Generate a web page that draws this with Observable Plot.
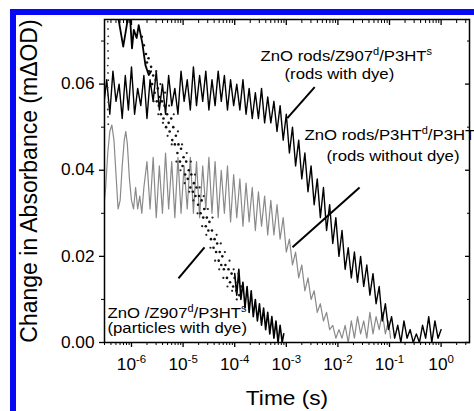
<!DOCTYPE html>
<html><head><meta charset="utf-8">
<script src="https://cdn.jsdelivr.net/npm/d3@7"></script>
<script src="https://cdn.jsdelivr.net/npm/@observablehq/plot@0.6"></script>
<style>
html,body{margin:0;padding:0;background:#fff;width:474px;height:411px;overflow:hidden;}
#chart{position:absolute;left:0;top:0;}
.bar{position:absolute;background:#0808f6;}
</style></head><body>
<div id="chart"></div>
<div class="bar" style="left:10px;top:9px;width:464px;height:6px"></div>
<div class="bar" style="left:10px;top:9px;width:6px;height:402px"></div>
<script>
// ---- data: [log10(time / s), change in absorbance] ----
const rodsWithDye = [
[-6.54,0.055],[-6.48,0.061],[-6.42,0.053],[-6.36,0.063],[-6.30,0.056],[-6.24,0.060],[-6.18,0.052],[-6.12,0.062],[-6.06,0.054],[-6.00,0.064],
[-5.94,0.053],[-5.88,0.059],[-5.82,0.055],[-5.76,0.062],[-5.70,0.052],[-5.64,0.061],[-5.58,0.056],[-5.52,0.063],[-5.46,0.054],[-5.40,0.060],
[-5.34,0.053],[-5.28,0.062],[-5.22,0.055],[-5.16,0.059],[-5.10,0.053],[-5.04,0.063],[-4.98,0.056],[-4.92,0.061],[-4.86,0.054],[-4.80,0.064],
[-4.74,0.055],[-4.68,0.062],[-4.62,0.056],[-4.56,0.063],[-4.50,0.054],[-4.44,0.061],[-4.38,0.055],[-4.32,0.063],[-4.26,0.056],[-4.20,0.062],
[-4.14,0.054],[-4.08,0.061],[-4.02,0.055],
[-3.96,0.060],[-3.90,0.054],[-3.84,0.061],[-3.78,0.053],[-3.72,0.059],[-3.66,0.052],[-3.60,0.058],[-3.54,0.052],[-3.48,0.059],[-3.42,0.051],
[-3.36,0.057],[-3.30,0.051],[-3.24,0.056],[-3.18,0.049],[-3.12,0.055],[-3.06,0.047],[-3.00,0.053],[-2.94,0.044],[-2.88,0.050],[-2.82,0.041],
[-2.76,0.047],[-2.70,0.038],[-2.64,0.044],[-2.58,0.035],[-2.52,0.041],[-2.46,0.032],[-2.40,0.038],[-2.34,0.029],[-2.28,0.036],[-2.22,0.026],
[-2.16,0.032],[-2.10,0.023],[-2.04,0.029],[-1.98,0.020],[-1.92,0.026],[-1.86,0.017],[-1.80,0.022],[-1.74,0.015],[-1.68,0.021],[-1.62,0.014],
[-1.56,0.020],[-1.50,0.013],[-1.44,0.018],[-1.38,0.011],[-1.32,0.016],[-1.26,0.009],[-1.20,0.013],[-1.14,0.005],[-1.08,0.009],[-1.02,0.003],
[-0.96,0.006],[-0.90,0.001],[-0.84,0.004],[-0.78,0.000],[-0.72,0.005],[-0.66,0.001],[-0.60,0.003],[-0.54,0.000],[-0.48,0.002],[-0.42,0.000],
[-0.36,0.004],[-0.30,0.001],[-0.24,0.006],[-0.18,0.000],[-0.12,0.005],[-0.06,0.001],[0.00,0.003]
];
const rodsWithoutDye = [
[-6.54,0.031],[-6.50,0.036],[-6.46,0.044],[-6.42,0.049],[-6.38,0.0505],[-6.34,0.047],[-6.30,0.039],[-6.26,0.031],[-6.22,0.033],[-6.18,0.041],
[-6.14,0.047],[-6.11,0.049],[-6.08,0.046],[-6.04,0.038],[-6.00,0.033],[-5.96,0.031],[-5.92,0.036],[-5.88,0.031],[-5.84,0.034],[-5.80,0.030],
[-5.76,0.036],[-5.70,0.042],[-5.64,0.031],[-5.58,0.043],[-5.52,0.029],[-5.46,0.041],[-5.40,0.030],[-5.34,0.044],[-5.28,0.031],[-5.22,0.042],
[-5.16,0.029],[-5.10,0.043],[-5.04,0.030],[-4.98,0.041],[-4.92,0.031],[-4.86,0.043],[-4.80,0.030],[-4.74,0.042],[-4.68,0.029],[-4.62,0.041],
[-4.56,0.031],[-4.50,0.043],[-4.44,0.030],[-4.38,0.042],[-4.32,0.029],[-4.26,0.040],[-4.20,0.030],[-4.14,0.041],[-4.08,0.028],[-4.02,0.039],
[-3.96,0.029],[-3.90,0.038],[-3.84,0.027],[-3.78,0.037],[-3.72,0.028],[-3.66,0.036],[-3.60,0.026],[-3.54,0.035],[-3.48,0.027],[-3.42,0.034],
[-3.36,0.025],[-3.30,0.033],[-3.24,0.025],[-3.18,0.032],[-3.12,0.024],[-3.06,0.029],[-3.00,0.021],[-2.94,0.024],[-2.88,0.018],[-2.82,0.021],
[-2.76,0.015],[-2.70,0.018],[-2.64,0.012],[-2.58,0.015],[-2.52,0.010],[-2.46,0.012],[-2.40,0.007],[-2.34,0.009],[-2.28,0.005],[-2.22,0.007],
[-2.16,0.003],[-2.10,0.004],[-2.04,0.001],[-1.98,0.003],[-1.92,0.001],[-1.86,0.004],[-1.80,0.000],[-1.74,0.005],[-1.68,0.001],[-1.62,0.006],
[-1.56,0.002],[-1.50,0.005],[-1.44,0.001],[-1.38,0.007],[-1.32,0.002],[-1.26,0.006],[-1.20,0.003],[-1.14,0.007],[-1.08,0.002],[-1.02,0.005],[-0.98,0.001]
];
const particlesEarlyTrace = [
[-6.30,0.080],[-6.25,0.075],[-6.16,0.0687],[-6.08,0.0745],[-6.04,0.078],[-6.01,0.072],[-5.99,0.0683],[-5.955,0.0726],[-5.90,0.0707],
[-5.86,0.0737],[-5.79,0.0695],[-5.73,0.0644],[-5.665,0.0621],[-5.62,0.063]
];
const particlesStartColumn = [
[-6.46,0.0745],[-6.455,0.0728],[-6.45,0.0711],[-6.46,0.0694],[-6.455,0.0677],[-6.45,0.066],[-6.46,0.0643],[-6.455,0.0626],
[-6.45,0.0609],[-6.46,0.0592],[-6.455,0.0575],[-6.45,0.0558],[-6.46,0.0541],[-6.455,0.0524],[-6.45,0.0507]
];
const particlesDots = [
[-5.80,0.071],[-5.76,0.069],[-5.72,0.067],[-5.70,0.065],[-5.67,0.066],[-5.66,0.063],
[-5.62,0.064],[-5.60,0.060],[-5.58,0.062],[-5.55,0.058],[-5.53,0.061],[-5.51,0.056],[-5.49,0.059],[-5.47,0.055],[-5.45,0.057],[-5.43,0.053],
[-5.41,0.056],[-5.38,0.052],[-5.36,0.055],[-5.33,0.050],[-5.31,0.053],[-5.28,0.051],[-5.26,0.049],[-5.23,0.052],[-5.21,0.047],[-5.19,0.050],
[-5.16,0.046],[-5.14,0.048],[-5.11,0.044],[-5.09,0.046],[-5.06,0.042],[-5.04,0.045],[-5.01,0.041],[-4.99,0.043],[-4.96,0.039],[-4.94,0.042],
[-4.91,0.038],[-4.89,0.040],[-4.86,0.036],[-4.84,0.039],[-4.81,0.035],[-4.79,0.037],[-4.76,0.034],[-4.74,0.036],[-4.71,0.032],[-4.69,0.034],
[-4.66,0.030],[-4.64,0.033],[-4.61,0.029],[-4.59,0.031],[-4.56,0.027],[-4.54,0.029],[-4.51,0.026],[-4.49,0.028],[-4.46,0.024],[-4.44,0.026],
[-4.41,0.022],[-4.39,0.024],[-4.36,0.021],[-4.34,0.023],[-4.31,0.019],[-4.29,0.021],[-4.26,0.018],[-4.24,0.020],[-4.21,0.017],[-4.18,0.018],
[-4.15,0.015],[-4.12,0.017],[-4.09,0.014],[-4.06,0.016],[-4.03,0.013],[-4.00,0.015],[-3.97,0.012],[-3.94,0.014],[-3.91,0.011],[-3.88,0.013]
];
const particlesScatter = [
[-5.57,0.056],[-5.52,0.063],[-5.48,0.053],[-5.44,0.060],[-5.39,0.051],[-5.35,0.058],[-5.30,0.048],[-5.27,0.055],[-5.22,0.046],[-5.18,0.053],
[-5.13,0.042],[-5.10,0.049],[-5.05,0.040],[-5.02,0.046],[-4.97,0.037],[-4.93,0.044],[-4.88,0.035],[-4.85,0.042],[-4.80,0.033],[-4.77,0.039],
[-4.72,0.030],[-4.68,0.036],[-4.63,0.027],[-4.60,0.034],[-4.55,0.025],[-4.52,0.031],[-4.47,0.022],[-4.43,0.029],[-4.38,0.019],[-4.35,0.025],
[-4.30,0.017],[-4.27,0.023],[-4.22,0.015],[-4.19,0.021],[-4.14,0.013],[-4.10,0.019],[-4.05,0.012],[-4.02,0.017],[-3.96,0.010],[-3.93,0.016]
];
const particlesLateTrace = [
[-4.00,0.016],[-3.96,0.011],[-3.92,0.017],[-3.88,0.010],[-3.84,0.014],[-3.80,0.008],[-3.76,0.013],[-3.72,0.007],[-3.68,0.012],[-3.64,0.006],
[-3.60,0.010],[-3.56,0.005],[-3.52,0.009],[-3.48,0.004],[-3.44,0.008],[-3.40,0.003],[-3.36,0.007],[-3.32,0.002],[-3.28,0.006],[-3.24,0.001],
[-3.20,0.005],[-3.16,0.000],[-3.12,0.004],[-3.08,0.000],[-3.05,0.002]
];
// leader lines: [log10 t1, v1, log10 t2, v2]
const leaderLines = [
[-2.45,0.0593,-2.98,0.0521],
[-1.58,0.0360,-2.88,0.0221],
[-5.09,0.0149,-4.585,0.0221]
];
// annotations (left-anchored)
const annotationTexts = ["ZnO rods/Z907^{d}/P3HT^{s}","(rods with dye)","ZnO rods/P3HT^{d}/P3HT^{s}","(rods without dye)","ZnO /Z907^{d}/P3HT^{s}","(particles with dye)"];
const annotationLogT = [-3.500,-3.035,-2.647,-2.221,-6.465,-6.465];
const annotationV = [0.06535,0.06116,0.04698,0.04209,0.00558,0.00209];
// axes
const xMajorExp = [-6,-5,-4,-3,-2,-1,0];
const yMajor = [0,0.02,0.04,0.06];
const yMinor = [0.01,0.03,0.05,0.07];
const xTitle = "Time (s)";
const yTitle = "Change in Absorbance (mΔOD)";

const rows = a => a.map(([L, v]) => ({t: 10 ** L, v}));
const xMajor = xMajorExp.map(e => 10 ** e);
const xMinor = [];
for (let e = -7; e <= 0; e++) for (let k = 2; k <= 9; k++) xMinor.push(k * 10 ** e);
const xDomain = [10 ** -6.523, 10 ** 0.55];
const xMinorIn = xMinor.filter(t => t >= xDomain[0] && t <= xDomain[1]);
const ann = annotationTexts.map((s, i) => ({s, t: 10 ** annotationLogT[i], v: annotationV[i]}));
const links = leaderLines.map(([a, b, c, d]) => ({x1: 10 ** a, y1: b, x2: 10 ** c, y2: d}));
const blank = () => "";

const plot = Plot.plot({
  width: 474, height: 411,
  marginLeft: 104, marginRight: 5, marginTop: 19, marginBottom: 69,
  style: {fontFamily: "'Liberation Sans', Arial, sans-serif", background: "white", overflow: "visible"},
  x: {type: "log", domain: xDomain},
  y: {domain: [0, 0.075]},
  marks: [
    Plot.line(rows(rodsWithoutDye), {x: "t", y: "v", stroke: "#8a8a8a", strokeWidth: 1.2, clip: true}),
    Plot.line(rows(rodsWithDye), {x: "t", y: "v", stroke: "#000", strokeWidth: 1.4, clip: true}),
    Plot.line(rows(particlesEarlyTrace), {x: "t", y: "v", stroke: "#000", strokeWidth: 1.8, clip: true}),
    Plot.line(rows(particlesLateTrace), {x: "t", y: "v", stroke: "#000", strokeWidth: 1.6, clip: true}),
    Plot.dot(rows(particlesDots), {x: "t", y: "v", r: 1.3, fill: "#111", clip: true}),
    Plot.dot(rows(particlesScatter), {x: "t", y: "v", r: 1.1, fill: "#222", clip: true}),
    Plot.dot(rows(particlesStartColumn), {x: "t", y: "v", r: 0.9, fill: "#333", clip: true}),
    Plot.link(links, {x1: "x1", y1: "y1", x2: "x2", y2: "y2", stroke: "#000", strokeWidth: 2}),
    Plot.text(ann, {x: "t", y: "v", text: "s", textAnchor: "start", lineAnchor: "bottom", fontSize: 15.5, fill: "#000"}),
    Plot.frame({stroke: "#000", strokeWidth: 1.5}),
    Plot.axisX(xMajor, {anchor: "bottom", tickSize: 5, tickPadding: 11, strokeWidth: 1.3, fontSize: 16, label: null,
      tickFormat: d => `10^{${Math.round(Math.log10(d))}}`}),
    Plot.axisX(xMinorIn, {anchor: "bottom", tickSize: 3, strokeWidth: 1, tickFormat: blank, label: null}),
    Plot.axisX(xMajor, {anchor: "top", tickSize: -5, strokeWidth: 1.3, tickFormat: blank, label: null}),
    Plot.axisX(xMinorIn, {anchor: "top", tickSize: -3, strokeWidth: 1, tickFormat: blank, label: null}),
    Plot.axisY(yMajor, {anchor: "left", tickSize: 5, tickPadding: 5, strokeWidth: 1.3, fontSize: 16, label: null,
      tickFormat: d3.format(".2f")}),
    Plot.axisY(yMinor, {anchor: "left", tickSize: 3, strokeWidth: 1, tickFormat: blank, label: null}),
    Plot.axisY(yMajor, {anchor: "right", tickSize: -5, strokeWidth: 1.3, tickFormat: blank, label: null}),
    Plot.axisY(yMinor, {anchor: "right", tickSize: -3, strokeWidth: 1, tickFormat: blank, label: null}),
    Plot.text([xTitle], {frameAnchor: "bottom", dy: 62, lineAnchor: "bottom", textAnchor: "middle", fontSize: 21, fill: "#000"}),
    Plot.text([yTitle], {frameAnchor: "left", dx: -75.5, rotate: -90, textAnchor: "middle", fontSize: 23, fill: "#000"})
  ]
});
document.getElementById("chart").appendChild(plot);

// render "^{...}" as raised superscripts
const NS = "http://www.w3.org/2000/svg";
plot.querySelectorAll("text, tspan").forEach(el => {
  for (const node of Array.from(el.childNodes)) {
    if (node.nodeType !== 3 || !node.nodeValue.includes("^{")) continue;
    const fs = parseFloat(getComputedStyle(el).fontSize) || 16;
    const shift = 0.42 * fs;
    const parts = node.nodeValue.split(/(\^\{[^}]*\})/);
    const frag = document.createDocumentFragment();
    let raised = false;
    for (const p of parts) {
      if (!p) continue;
      const ts = document.createElementNS(NS, "tspan");
      if (p.startsWith("^{")) {
        ts.textContent = p.slice(2, -1);
        ts.setAttribute("font-size", (0.66 * fs).toFixed(1));
        ts.setAttribute("dy", (-shift).toFixed(1));
        raised = true;
      } else {
        ts.textContent = p;
        if (raised) { ts.setAttribute("dy", shift.toFixed(1)); raised = false; }
      }
      frag.appendChild(ts);
    }
    el.replaceChild(frag, node);
  }
});
// the reference lettering is slightly wide: stretch glyphs horizontally about each anchor
plot.querySelectorAll("text").forEach(el => {
  const tr = el.getAttribute("transform");
  if (!tr) return;
  el.setAttribute("transform", tr + (tr.includes("rotate") ? " scale(1,1.08)" : " scale(1.08,1)"));
});
</script></body></html>
